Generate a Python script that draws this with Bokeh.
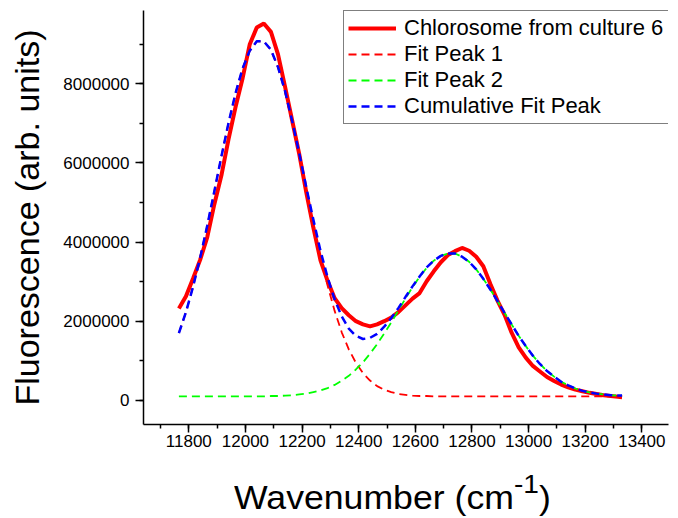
from bokeh.plotting import figure
from bokeh.models import (SingleIntervalTicker, NumeralTickFormatter, Div,
                          Legend, LegendItem, Range1d)
from bokeh.layouts import column
from bokeh.embed import file_html
from bokeh.resources import INLINE

# ---- data (wavenumber in cm^-1, fluorescence in millions of arb. units) ----
wavenumber = [11765, 11790, 11815, 11840, 11865, 11890, 11915, 11940, 11965, 11990,
              12015, 12040, 12065, 12090, 12115, 12140, 12165, 12190, 12215, 12240,
              12265, 12290, 12315, 12340, 12365, 12390, 12415, 12440, 12465, 12490,
              12515, 12540, 12565, 12590, 12615, 12640, 12665, 12690, 12715, 12740,
              12765, 12790, 12815, 12840, 12865, 12890, 12915, 12940, 12965, 12990,
              13015, 13040, 13065, 13090, 13115, 13140, 13165, 13190, 13215, 13240,
              13265, 13290, 13315, 13330]

chlorosome_m = [2.32, 2.63, 3.08, 3.55, 4.12, 4.95, 5.68, 6.59, 7.41, 8.14,
                8.99, 9.42, 9.52, 9.31, 8.74, 7.92, 7.07, 6.22, 5.25, 4.36,
                3.54, 3.02, 2.58, 2.33, 2.15, 2.00, 1.92, 1.87, 1.92, 2.00,
                2.09, 2.23, 2.40, 2.57, 2.71, 3.01, 3.26, 3.49, 3.67, 3.77,
                3.85, 3.78, 3.63, 3.39, 2.94, 2.52, 2.16, 1.71, 1.34, 1.08,
                0.87, 0.73, 0.59, 0.49, 0.40, 0.33, 0.27, 0.23, 0.19, 0.16,
                0.13, 0.11, 0.09, 0.08]

fit_peak1_m = [1.70, 2.23, 2.87, 3.60, 4.41, 5.28, 6.16, 7.00, 7.76, 8.39,
               8.83, 9.07, 9.07, 8.85, 8.41, 7.79, 7.03, 6.19, 5.31, 4.45,
               3.63, 2.90, 2.26, 1.72, 1.29, 0.95, 0.69, 0.50, 0.36, 0.27,
               0.21, 0.16, 0.14, 0.12, 0.11, 0.11, 0.10, 0.10, 0.10, 0.10,
               0.10, 0.10, 0.10, 0.10, 0.10, 0.10, 0.10, 0.10, 0.10, 0.10,
               0.10, 0.10, 0.10, 0.10, 0.10, 0.10, 0.10, 0.10, 0.10, 0.10,
               0.10, 0.10, 0.10, 0.10]

fit_peak2_m = [0.10, 0.10, 0.10, 0.10, 0.10, 0.10, 0.10, 0.10, 0.10, 0.10,
               0.10, 0.10, 0.10, 0.11, 0.11, 0.12, 0.13, 0.15, 0.17, 0.21,
               0.25, 0.31, 0.39, 0.50, 0.62, 0.78, 0.96, 1.18, 1.42, 1.69,
               1.97, 2.27, 2.57, 2.86, 3.12, 3.35, 3.53, 3.65, 3.71, 3.71,
               3.63, 3.50, 3.31, 3.07, 2.80, 2.51, 2.21, 1.92, 1.63, 1.37,
               1.13, 0.92, 0.74, 0.60, 0.47, 0.38, 0.30, 0.24, 0.20, 0.17,
               0.15, 0.13, 0.12, 0.12]

cumulative_m = [1.70, 2.23, 2.87, 3.60, 4.41, 5.28, 6.16, 7.00, 7.76, 8.39,
                8.83, 9.07, 9.07, 8.86, 8.42, 7.81, 7.06, 6.24, 5.38, 4.56,
                3.78, 3.11, 2.55, 2.12, 1.81, 1.63, 1.55, 1.58, 1.68, 1.86,
                2.08, 2.33, 2.61, 2.88, 3.13, 3.36, 3.53, 3.65, 3.71, 3.71,
                3.63, 3.50, 3.31, 3.07, 2.80, 2.51, 2.21, 1.92, 1.63, 1.37,
                1.13, 0.92, 0.74, 0.60, 0.47, 0.38, 0.30, 0.24, 0.20, 0.17,
                0.15, 0.13, 0.12, 0.12]

series_labels = ["Chlorosome from culture 6", "Fit Peak 1", "Fit Peak 2",
                 "Cumulative Fit Peak"]
x_title_parts = ["Wavenumber (cm", "-1", ")"]
y_title = "Fluorescence (arb. units)"

SCALE = 1e6
chlorosome = [v * SCALE for v in chlorosome_m]
fit_peak1 = [v * SCALE for v in fit_peak1_m]
fit_peak2 = [v * SCALE for v in fit_peak2_m]
cumulative = [v * SCALE for v in cumulative_m]

# ---- layout ----
X0, X1 = 11640, 13494
Y0, Y1 = -610000, 9850000
FL, FR, FT, FB = 143, 668, 10, 424   # frame edges in pixels
W, H = 678, 518
PH = 470                              # plot canvas height; title strip below
FONT = "Liberation Sans"

p = figure(width=W, height=PH, x_range=Range1d(X0, X1), y_range=Range1d(Y0, Y1),
           output_backend="svg", toolbar_location=None,
           min_border_left=FL, min_border_right=W - FR,
           min_border_top=FT, min_border_bottom=PH - FB, margin=0)
p.outline_line_color = None
p.xgrid.visible = False
p.ygrid.visible = False
p.background_fill_color = "white"
p.border_fill_color = "white"

r_data = p.line(wavenumber, chlorosome, line_color="#FF0000", line_width=4)
r_p1 = p.line(wavenumber, fit_peak1, line_color="#FF0000", line_width=1.8,
              line_dash="8 5")
r_p2 = p.line(wavenumber, fit_peak2, line_color="#00FF00", line_width=1.8,
              line_dash="8 5")
r_cum = p.line(wavenumber, cumulative, line_color="#0000FF", line_width=2.5,
               line_dash="8 5")

for ax in (p.xaxis[0], p.yaxis[0]):
    ax.axis_line_width = 1.5
    ax.axis_line_color = "black"
    ax.major_tick_line_width = 1.5
    ax.minor_tick_line_width = 1.5
    ax.major_tick_line_color = "black"
    ax.minor_tick_line_color = "black"
    ax.major_tick_in = 0
    ax.major_tick_out = 8
    ax.minor_tick_in = 0
    ax.minor_tick_out = 4
    ax.major_label_text_font = FONT
    ax.major_label_text_font_size = "17px"
    ax.major_label_text_color = "black"
    ax.formatter = NumeralTickFormatter(format="0")

p.xaxis[0].ticker = SingleIntervalTicker(interval=200, num_minor_ticks=2)
p.yaxis[0].ticker = SingleIntervalTicker(interval=2000000, num_minor_ticks=2)
p.xaxis[0].major_label_standoff = 2
p.yaxis[0].major_label_standoff = 6

p.yaxis[0].axis_label = y_title
p.yaxis[0].axis_label_text_font = FONT
p.yaxis[0].axis_label_text_font_size = "34px"
p.yaxis[0].axis_label_text_font_style = "normal"
p.yaxis[0].axis_label_text_color = "black"
p.yaxis[0].axis_label_standoff = 14

legend = Legend(items=[LegendItem(label=series_labels[0], renderers=[r_data]),
                       LegendItem(label=series_labels[1], renderers=[r_p1]),
                       LegendItem(label=series_labels[2], renderers=[r_p2]),
                       LegendItem(label=series_labels[3], renderers=[r_cum])],
                location=(343 - FL, FB - 124))
legend.padding = 4
legend.spacing = 0
legend.margin = 0
legend.label_height = 26
legend.glyph_height = 26
legend.glyph_width = 48
legend.label_standoff = 8
legend.label_width = 260
legend.label_text_font = FONT
legend.label_text_font_size = "22px"
legend.label_text_color = "black"
legend.border_line_color = "black"
legend.border_line_width = 1
legend.background_fill_color = "white"
legend.background_fill_alpha = 1.0
p.add_layout(legend)

# x-axis title (with raised "-1") in a strip under the plot
title_html = (
    '<div style="position:relative;width:%dpx;height:%dpx;background:#fff;">'
    '<span style="position:absolute;left:234px;top:11px;white-space:nowrap;'
    'font-family:\'Liberation Sans\',Arial,sans-serif;font-size:33px;'
    'line-height:1;color:#000;transform:scaleX(1.08);transform-origin:0 0;">%s'
    '<span style="font-size:26px;position:relative;top:-16px;">%s</span>'
    '%s</span></div>'
    % (W, H - PH, x_title_parts[0], x_title_parts[1], x_title_parts[2]))
x_title = Div(text=title_html, width=W, height=H - PH, margin=0)

page = column(p, x_title, spacing=0, margin=0)
open("out.html", "w").write(file_html(page, INLINE))
